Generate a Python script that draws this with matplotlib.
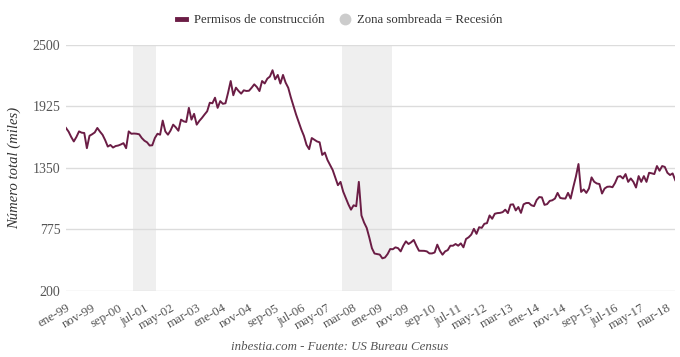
import numpy as np
import pandas as pd
import matplotlib.pyplot as plt
from matplotlib.lines import Line2D

# Permisos de construcción (miles, mensual), ene-1999 .. jun-2018
y1999 = [1724, 1690, 1640, 1598, 1640, 1692, 1680, 1677, 1535, 1651, 1665, 1682]
y2000 = [1724, 1690, 1660, 1610, 1550, 1565, 1541, 1555, 1560, 1570, 1582, 1535]
y2001 = [1692, 1670, 1672, 1670, 1665, 1630, 1605, 1590, 1560, 1562, 1630, 1670]
y2002 = [1661, 1793, 1692, 1661, 1700, 1755, 1730, 1698, 1802, 1786, 1780, 1912]
y2003 = [1802, 1856, 1755, 1790, 1818, 1850, 1880, 1960, 1955, 2007, 1912, 1975]
y2004 = [1950, 1955, 2054, 2163, 2030, 2101, 2070, 2045, 2076, 2070, 2072, 2100]
y2005 = [2132, 2107, 2069, 2163, 2140, 2185, 2205, 2264, 2179, 2220, 2139, 2220]
y2006 = [2148, 2100, 2010, 1930, 1850, 1780, 1710, 1650, 1566, 1526, 1630, 1614]
y2007 = [1598, 1590, 1472, 1494, 1425, 1378, 1331, 1260, 1189, 1220, 1130, 1070]
y2008 = [1010, 960, 1001, 992, 1220, 906, 840, 790, 700, 600, 550, 545]
y2009 = [540, 505, 513, 545, 592, 590, 608, 600, 570, 623, 664, 639]
y2010 = [655, 677, 623, 576, 576, 575, 570, 551, 551, 560, 633, 576]
y2011 = [539, 570, 582, 623, 623, 639, 623, 645, 608, 686, 702, 727]
y2012 = [781, 734, 796, 790, 828, 834, 906, 875, 922, 928, 930, 937]
y2013 = [960, 928, 1007, 1010, 953, 985, 930, 1010, 1022, 1023, 1001, 993]
y2014 = [1050, 1078, 1075, 1005, 1012, 1042, 1048, 1064, 1117, 1070, 1065, 1064]
y2015 = [1117, 1064, 1170, 1268, 1387, 1126, 1149, 1117, 1158, 1262, 1221, 1205]
y2016 = [1200, 1111, 1158, 1174, 1176, 1170, 1211, 1268, 1274, 1252, 1293, 1220]
y2017 = [1252, 1220, 1167, 1274, 1220, 1274, 1220, 1305, 1300, 1293, 1368, 1324]
y2018 = [1368, 1360, 1305, 1284, 1299, 1236]

permisos = (y1999 + y2000 + y2001 + y2002 + y2003 + y2004 + y2005 + y2006 + y2007
            + y2008 + y2009 + y2010 + y2011 + y2012 + y2013 + y2014 + y2015 + y2016
            + y2017 + y2018)
fechas = pd.date_range("1999-01-01", periods=len(permisos), freq="MS")

recesiones = [("2001-03", "2001-11"), ("2007-11", "2009-05")]
meses = ["ene", "feb", "mar", "abr", "may", "jun", "jul", "ago", "sep", "oct", "nov", "dic"]
y_ticks = [200, 775, 1350, 1925, 2500]

color_linea = "#6b1d45"
color_texto = "#555555"
plt.rcParams['font.family'] = ['Liberation Serif', 'DejaVu Serif']

x = np.arange(len(permisos))
etiquetas = [f"{meses[f.month - 1]}-{f.strftime('%y')}" for f in fechas]

fig = plt.figure(figsize=(6.8, 3.57), dpi=100)
ax = fig.add_axes([0.097, 0.185, 0.896, 0.689])

for ini, fin in recesiones:
    i0 = fechas.get_loc(pd.Timestamp(ini + "-01"))
    i1 = fechas.get_loc(pd.Timestamp(fin + "-01"))
    ax.axvspan(i0 - 0.5, i1 + 0.5, color="#efefef", lw=0, zorder=0)

ax.plot(x, permisos, color=color_linea, lw=1.4, zorder=3)

ax.set_xlim(0, len(permisos) - 1)
ax.set_ylim(200, 2500)
ax.set_yticks(y_ticks)
ax.set_yticklabels([str(v) for v in y_ticks])
ax.grid(axis="y", color="#dcdcdc", lw=1)
ax.set_axisbelow(True)
for s in ax.spines.values():
    s.set_visible(False)

ticks = x[::10]
ax.set_xticks(ticks)
ax.set_xticklabels([etiquetas[i] for i in ticks], rotation=30, ha="right",
                   rotation_mode="anchor")
ax.tick_params(axis="y", length=0, labelsize=10, colors=color_texto, pad=4)
ax.tick_params(axis="x", length=0, labelsize=9.3, colors=color_texto, pad=8)

ax.set_ylabel("Número total (miles)", fontsize=10.5, style="italic", color="#333333",
              labelpad=8)

handles = [Line2D([0], [0], color=color_linea, lw=3.5),
           Line2D([0], [0], marker="o", color="#cccccc", lw=0, markersize=7.5)]
fig.legend(handles, ["Permisos de construcción", "Zona sombreada = Recesión"],
           loc="center", bbox_to_anchor=(0.5, 0.943), ncol=2, frameon=False,
           fontsize=9.2, handlelength=0.7, columnspacing=1.3, handletextpad=0.6,
           labelcolor="#333333")

fig.text(0.5, 0.02, "inbestia.com - Fuente: US Bureau Census", ha="center",
         fontsize=9.3, style="italic", color="#555555")

fig.savefig("out.png", dpi=100)
